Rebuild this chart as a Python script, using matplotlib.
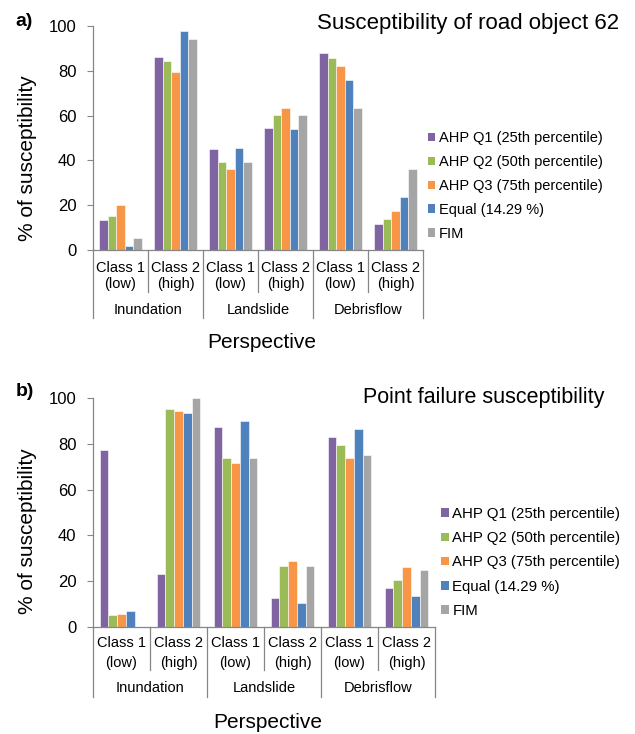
import matplotlib
matplotlib.use("Agg")
import matplotlib.pyplot as plt
import matplotlib.transforms as mtransforms
from matplotlib.patches import Patch
import numpy as np

plt.rcParams['font.family'] = ['Liberation Sans', 'DejaVu Sans']

W, H = 635, 734

class_labels = ["Class 1\n(low)", "Class 2\n(high)"] * 3
hazards = ["Inundation", "Landslide", "Debrisflow"]
series_names = ["AHP Q1 (25th percentile)", "AHP Q2 (50th percentile)",
                "AHP Q3 (75th percentile)", "Equal (14.29 %)", "FIM"]
colors = ["#8064A2", "#9BBB59", "#F79646", "#4F81BD", "#A5A5A5"]

# a) susceptibility of road object 62
a_q1 = [13.4, 86.3, 45.2, 54.3, 88.1, 11.5]
a_q2 = [15.2, 84.4, 39.3, 60.3, 85.6, 13.8]
a_q3 = [20.1, 79.5, 36.2, 63.2, 82.1, 17.4]
a_eq = [1.9, 97.6, 45.7, 53.9, 75.7, 23.8]
a_fim = [5.2, 94.2, 39.3, 60.1, 63.5, 36.0]

# b) point failure susceptibility
b_q1 = [77.2, 23.1, 87.3, 12.8, 82.9, 17.2]
b_q2 = [5.1, 95.2, 73.6, 26.7, 79.6, 20.4]
b_q3 = [5.7, 94.5, 71.4, 28.8, 73.7, 26.4]
b_eq = [6.9, 93.4, 89.9, 10.4, 86.6, 13.6]
b_fim = [0.0, 99.9, 73.6, 26.7, 75.2, 24.8]

AXIS_COLOR = "#868686"


def fx(px):
    return px / W


def fy(py):
    return 1 - py / H


def draw_panel(fig, box, series, title, title_pos, letter, letter_pos,
               ylabel_pos, rows, legend_pos):
    left, top, right, bottom = box
    ax = fig.add_axes([fx(left), fy(bottom), fx(right - left), (bottom - top) / H])
    x = np.arange(len(class_labels))
    bw = 0.153
    for i, (vals, c) in enumerate(zip(series, colors)):
        ax.bar(x + (i - 2) * bw, vals, width=bw, color=c,
               edgecolor="white", linewidth=0.4)
    ax.set_xlim(-0.5, len(class_labels) - 0.5)
    ax.set_ylim(0, 100)
    ax.set_yticks(range(0, 101, 20))
    ax.tick_params(axis='y', length=4, width=0.8, color=AXIS_COLOR,
                   labelsize=12, pad=8)
    ax.set_xticks([])
    for s in ["top", "right"]:
        ax.spines[s].set_visible(False)
    for s in ["left", "bottom"]:
        ax.spines[s].set_color(AXIS_COLOR)
        ax.spines[s].set_linewidth(0.9)

    # multi-level category axis
    tr = mtransforms.blended_transform_factory(ax.transData, fig.transFigure)
    y_row1, y_row2, y_inner, y_grp, y_outer, y_persp = rows
    for k, lab in enumerate(class_labels):
        l1, l2 = lab.split("\n")
        ax.text(k, fy(y_row1), l1, transform=tr, ha="center", va="center", fontsize=10.5)
        ax.text(k, fy(y_row2), l2, transform=tr, ha="center", va="center", fontsize=10.5)
    for k in range(len(class_labels) + 1):
        xb = k - 0.5
        yend = y_outer if k % 2 == 0 else y_inner
        ax.plot([xb, xb], [fy(bottom), fy(yend)], transform=tr,
                color=AXIS_COLOR, lw=0.9, clip_on=False)
    for g, name in enumerate(hazards):
        ax.text(2 * g + 0.5, fy(y_grp), name, transform=tr, ha="center",
                va="center", fontsize=10.5)
    fig.text(fx((left + right) / 2 + 4), fy(y_persp), "Perspective",
             ha="center", va="center", fontsize=15)

    fig.text(fx(ylabel_pos[0]), fy(ylabel_pos[1]), "% of susceptibility",
             rotation=90, ha="center", va="center", fontsize=15)
    fig.text(fx(title_pos[0]), fy(title_pos[1]), title, ha="right",
             va="center", fontsize=title_pos[2])
    fig.text(fx(letter_pos[0]), fy(letter_pos[1]), letter, ha="center",
             va="center", fontsize=14, fontweight="bold")

    handles = [Patch(facecolor=c, edgecolor="none") for c in colors]
    fig.legend(handles, series_names, loc="upper left",
               bbox_to_anchor=(fx(legend_pos[0]), fy(legend_pos[1])),
               frameon=False, fontsize=legend_pos[2], handlelength=0.5,
               handleheight=0.5, handletextpad=0.25, labelspacing=0.68,
               borderpad=0, borderaxespad=0)
    return ax


fig = plt.figure(figsize=(W / 100, H / 100), dpi=100)

draw_panel(fig, (93, 26, 423, 250),
           [a_q1, a_q2, a_q3, a_eq, a_fim],
           "Susceptibility of road object 62", (619, 23, 16), "a)", (24, 21),
           (28, 158), (268, 284, 292, 310, 318, 342), (428, 131, 10.5))

draw_panel(fig, (93, 398, 435, 627),
           [b_q1, b_q2, b_q3, b_eq, b_fim],
           "Point failure susceptibility", (604, 398, 15.5), "b)", (25, 392),
           (28, 531), (643, 663, 670, 688, 697, 722), (441, 507, 10.8))

fig.savefig("out.png", dpi=100)
